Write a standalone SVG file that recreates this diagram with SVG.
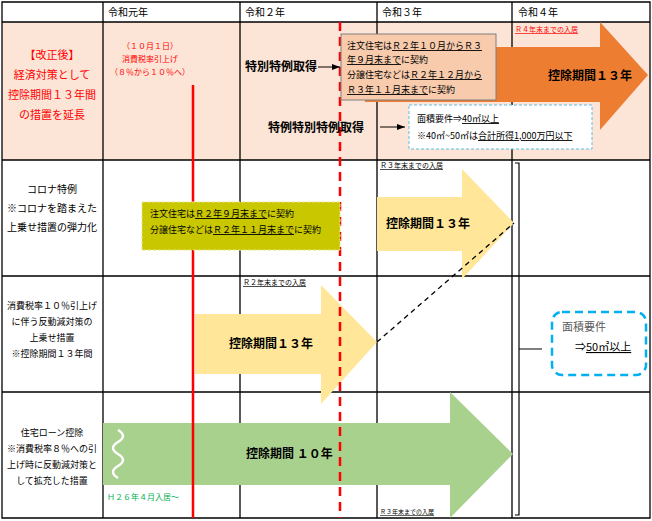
<svg xmlns="http://www.w3.org/2000/svg" width="652" height="521" viewBox="0 0 652 521">
<style>
text{font-family:"Noto Sans CJK JP","Noto Sans CJK SC",sans-serif;fill:#000}
.g{stroke:#000;stroke-width:1.3;fill:none}
.s{font-size:9px}
.t{font-size:10px}
.b{font-size:12px;font-weight:bold}
.r{fill:#ff0000}
.u{text-decoration:underline}
</style>
<defs><marker id="ah" markerWidth="8" markerHeight="6" refX="8" refY="3" orient="auto"><path d="M0,0L8,3L0,6z" fill="#000"/></marker></defs>
<rect width="652" height="521" fill="#fff"/>
<g id="grid">
<rect x="2" y="22" width="648" height="138" fill="#fce4d6"/>
<path class="g" d="M2,2H650V518H2Z M2,22H650 M2,160H650 M2,276H650 M2,392H650 M103,2V518 M240,2V518 M377,2V518 M512,2V518"/>
<text x="108" y="16" class="t" font-size="11">令和元年</text>
<text x="245" y="16" class="t" font-size="11">令和２年</text>
<text x="382" y="16" class="t" font-size="11">令和３年</text>
<text x="518" y="16" class="t" font-size="11">令和４年</text>
</g>
<g id="left" text-anchor="middle">
<text x="52" y="59" font-size="11" class="r">【改正後】</text>
<text x="52" y="79" font-size="11" class="r">経済対策として</text>
<text x="52" y="99" font-size="11" class="r">控除期間１３年間</text>
<text x="52" y="119" font-size="11" class="r">の措置を延長</text>
<text x="52" y="193" font-size="10">コロナ特例</text>
<text x="52" y="212" font-size="10">※コロナを踏まえた</text>
<text x="52" y="231" font-size="10">上乗せ措置の弾力化</text>
<text x="52" y="309" class="s">消費税率１０％引上げ</text>
<text x="52" y="325" class="s">に伴う反動減対策の</text>
<text x="52" y="341" class="s">上乗せ措置</text>
<text x="52" y="357" class="s">※控除期間１３年間</text>
<text x="52" y="436" class="s">住宅ローン控除</text>
<text x="52" y="452" class="s">※消費税率８％への引</text>
<text x="52" y="468" class="s">上げ時に反動減対策と</text>
<text x="52" y="484" class="s">して拡充した措置</text>
</g>
<g id="tax" text-anchor="middle">
<text x="150" y="49" font-size="8" class="r">（１０月１日）</text>
<text x="150" y="62" font-size="8" class="r">消費税率引上げ</text>
<text x="150" y="75" font-size="8" class="r">（８％から１０％へ）</text>
</g>
<g id="arrows">
<path d="M365,47H600V22L648,75L600,130V102H365Z" fill="#ed7d31"/>
<path d="M377,197H462V169L514,223L462,279V251H377Z" fill="#ffe699"/>
<path d="M195,314H321V285L377,342L321,404V374H195Z" fill="#ffe699"/>
<path d="M103,423H450V392L513,454L450,518V485H103Z" fill="#a9d18e"/>
<path d="M118,430q10,6 0,12q-10,6 0,12q10,6 0,12q-10,6 0,12" stroke="#fff" stroke-width="2.5" fill="none"/>
<text x="548" y="80" class="b" font-size="13">控除期間１３年</text>
<text x="386" y="228" class="b">控除期間１３年</text>
<text x="229" y="348" class="b">控除期間１３年</text>
<text x="246" y="458" class="b">控除期間 １０年</text>
</g>
<g id="connectors">
<line x1="193" y1="85" x2="193" y2="518" stroke="#ff0000" stroke-width="2.5"/>
<line x1="340" y1="22" x2="340" y2="518" stroke="#ff0000" stroke-width="2.5" stroke-dasharray="9,6"/>
<line x1="377" y1="342" x2="514" y2="223" stroke="#000" stroke-width="1.3" stroke-dasharray="5,4"/>
<line x1="318" y1="67" x2="340" y2="67" stroke="#000" marker-end="url(#ah)"/>
<line x1="380" y1="127" x2="405" y2="127" stroke="#000" marker-end="url(#ah)"/>
<path d="M515,163h4v352h-4 M519,349h23" stroke="#000" stroke-width="1.2" fill="none"/>
</g>
<g id="box1">
<rect x="341" y="34" width="155" height="66" fill="#f8cbad" stroke="#7f7f7f" stroke-width="1"/>
<text x="347" y="49" class="s">注文住宅は<tspan class="u">Ｒ２年１０月からＲ３</tspan></text>
<text x="347" y="63" class="s"><tspan class="u">年９月末まで</tspan>に契約</text>
<text x="347" y="78" class="s">分譲住宅などは<tspan class="u">Ｒ２年１２月から</tspan></text>
<text x="347" y="93" class="s"><tspan class="u">Ｒ３年１１月末まで</tspan>に契約</text>
</g>
<g id="labels">
<text x="245" y="71" class="b">特別特例取得</text>
<text x="268" y="132" class="b">特例特別特例取得</text>
<text x="515" y="32" font-size="7" class="r u">Ｒ４年末までの入居</text>
<text x="380" y="168" font-size="7" class="u">Ｒ３年末までの入居</text>
<text x="243" y="285" font-size="7" class="u">Ｒ２年末までの入居</text>
<text x="380" y="514" font-size="6" class="u">Ｒ３年末までの入居</text>
<text x="107" y="500" font-size="8" fill="#00b050" style="fill:#00b050">Ｈ２６年４月入居～</text>
</g>
<g id="box2">
<rect x="409" y="105" width="183" height="44" fill="#fff" stroke="#5bc0eb" stroke-dasharray="3,2"/>
<text x="417" y="122" class="s">面積要件⇒<tspan class="u">40㎡以上</tspan></text>
<text x="417" y="139" class="s">※40㎡~50㎡は<tspan class="u">合計所得1,000万円以下</tspan></text>
</g>
<g id="olive">
<rect x="142" y="202" width="198" height="48" fill="#c9c800" stroke="#e5e58a" stroke-dasharray="3,2"/>
<text x="150" y="217" class="s">注文住宅は<tspan class="u">Ｒ２年９月末まで</tspan>に契約</text>
<text x="150" y="233" class="s">分譲住宅などは<tspan class="u">Ｒ２年１１月末まで</tspan>に契約</text>
</g>
<g id="box3">
<rect x="552" y="312" width="94" height="63" rx="10" fill="#fff" stroke="#00b0f0" stroke-width="2.5" stroke-dasharray="8,5"/>
<text x="562" y="331" font-size="11" style="fill:#595959">面積要件</text>
<text x="575" y="351" font-size="11">⇒<tspan class="u">50㎡以上</tspan></text>
</g>
</svg>
